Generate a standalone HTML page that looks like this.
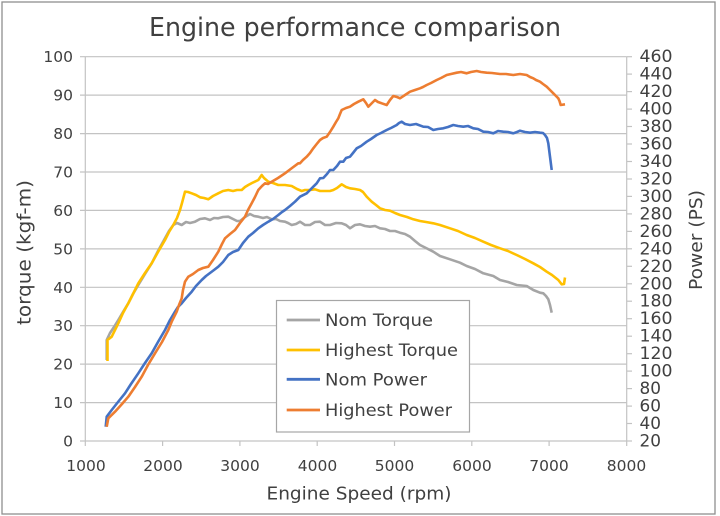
<!DOCTYPE html>
<html><head><meta charset="utf-8"><style>
html,body{margin:0;padding:0;background:#fff;}
svg{display:block;}
text{font-family:"DejaVu Sans","Liberation Sans",sans-serif;fill:#404040;}
</style></head><body>
<svg width="720" height="516" viewBox="0 0 720 516" xmlns="http://www.w3.org/2000/svg">
<rect x="0" y="0" width="720" height="516" fill="#fff"/>
<rect x="2" y="2" width="713" height="512" fill="none" stroke="#8e8e8e" stroke-width="1.3"/>
<text x="355" y="36" font-size="26" text-anchor="middle" textLength="412" lengthAdjust="spacingAndGlyphs">Engine performance comparison</text>
<g stroke="#c3c3c3" stroke-width="1.2" fill="none">
<line x1="80" y1="56.7" x2="626.7" y2="56.7"/>
<line x1="80" y1="95.1" x2="626.7" y2="95.1"/>
<line x1="80" y1="133.6" x2="626.7" y2="133.6"/>
<line x1="80" y1="172" x2="626.7" y2="172"/>
<line x1="80" y1="210.4" x2="626.7" y2="210.4"/>
<line x1="80" y1="248.9" x2="626.7" y2="248.9"/>
<line x1="80" y1="287.3" x2="626.7" y2="287.3"/>
<line x1="80" y1="325.7" x2="626.7" y2="325.7"/>
<line x1="80" y1="364.1" x2="626.7" y2="364.1"/>
<line x1="80" y1="402.6" x2="626.7" y2="402.6"/>
<line x1="80" y1="441" x2="626.7" y2="441"/>
<line x1="85.3" y1="56.7" x2="85.3" y2="446"/>
<line x1="626.7" y1="56.7" x2="626.7" y2="446"/>
<line x1="162.6" y1="441" x2="162.6" y2="446"/>
<line x1="239.9" y1="441" x2="239.9" y2="446"/>
<line x1="317.2" y1="441" x2="317.2" y2="446"/>
<line x1="394.5" y1="441" x2="394.5" y2="446"/>
<line x1="471.8" y1="441" x2="471.8" y2="446"/>
<line x1="549.1" y1="441" x2="549.1" y2="446"/>
<line x1="626.7" y1="423.5" x2="632" y2="423.5"/>
<line x1="626.7" y1="406.1" x2="632" y2="406.1"/>
<line x1="626.7" y1="388.6" x2="632" y2="388.6"/>
<line x1="626.7" y1="371.1" x2="632" y2="371.1"/>
<line x1="626.7" y1="353.7" x2="632" y2="353.7"/>
<line x1="626.7" y1="336.2" x2="632" y2="336.2"/>
<line x1="626.7" y1="318.7" x2="632" y2="318.7"/>
<line x1="626.7" y1="301.2" x2="632" y2="301.2"/>
<line x1="626.7" y1="283.8" x2="632" y2="283.8"/>
<line x1="626.7" y1="266.3" x2="632" y2="266.3"/>
<line x1="626.7" y1="248.8" x2="632" y2="248.8"/>
<line x1="626.7" y1="231.4" x2="632" y2="231.4"/>
<line x1="626.7" y1="213.9" x2="632" y2="213.9"/>
<line x1="626.7" y1="196.4" x2="632" y2="196.4"/>
<line x1="626.7" y1="179" x2="632" y2="179"/>
<line x1="626.7" y1="161.5" x2="632" y2="161.5"/>
<line x1="626.7" y1="144" x2="632" y2="144"/>
<line x1="626.7" y1="126.5" x2="632" y2="126.5"/>
<line x1="626.7" y1="109.1" x2="632" y2="109.1"/>
<line x1="626.7" y1="91.6" x2="632" y2="91.6"/>
<line x1="626.7" y1="74.1" x2="632" y2="74.1"/>
<line x1="626.7" y1="56.7" x2="632" y2="56.7"/>
<line x1="626.7" y1="441" x2="632" y2="441"/>
</g>
<g font-size="15.5" text-anchor="end">
<text x="73" y="62.2">100</text>
<text x="73" y="100.6">90</text>
<text x="73" y="139.1">80</text>
<text x="73" y="177.5">70</text>
<text x="73" y="215.9">60</text>
<text x="73" y="254.4">50</text>
<text x="73" y="292.8">40</text>
<text x="73" y="331.2">30</text>
<text x="73" y="369.6">20</text>
<text x="73" y="408.1">10</text>
<text x="73" y="446.5">0</text>
</g>
<g font-size="15.5" text-anchor="middle">
<text x="86" y="471">1000</text>
<text x="163" y="471">2000</text>
<text x="240" y="471">3000</text>
<text x="317.5" y="471">4000</text>
<text x="394.5" y="471">5000</text>
<text x="472" y="471">6000</text>
<text x="549" y="471">7000</text>
<text x="626.5" y="471">8000</text>
</g>
<g font-size="16.5">
<text x="639.5" y="62.2" textLength="33" lengthAdjust="spacingAndGlyphs">460</text>
<text x="639.5" y="79.6" textLength="33" lengthAdjust="spacingAndGlyphs">440</text>
<text x="639.5" y="97.1" textLength="33" lengthAdjust="spacingAndGlyphs">420</text>
<text x="639.5" y="114.6" textLength="33" lengthAdjust="spacingAndGlyphs">400</text>
<text x="639.5" y="132" textLength="33" lengthAdjust="spacingAndGlyphs">380</text>
<text x="639.5" y="149.5" textLength="33" lengthAdjust="spacingAndGlyphs">360</text>
<text x="639.5" y="167" textLength="33" lengthAdjust="spacingAndGlyphs">340</text>
<text x="639.5" y="184.5" textLength="33" lengthAdjust="spacingAndGlyphs">320</text>
<text x="639.5" y="201.9" textLength="33" lengthAdjust="spacingAndGlyphs">300</text>
<text x="639.5" y="219.4" textLength="33" lengthAdjust="spacingAndGlyphs">280</text>
<text x="639.5" y="236.9" textLength="33" lengthAdjust="spacingAndGlyphs">260</text>
<text x="639.5" y="254.3" textLength="33" lengthAdjust="spacingAndGlyphs">240</text>
<text x="639.5" y="271.8" textLength="33" lengthAdjust="spacingAndGlyphs">220</text>
<text x="639.5" y="289.3" textLength="33" lengthAdjust="spacingAndGlyphs">200</text>
<text x="639.5" y="306.7" textLength="33" lengthAdjust="spacingAndGlyphs">180</text>
<text x="639.5" y="324.2" textLength="33" lengthAdjust="spacingAndGlyphs">160</text>
<text x="639.5" y="341.7" textLength="33" lengthAdjust="spacingAndGlyphs">140</text>
<text x="639.5" y="359.2" textLength="33" lengthAdjust="spacingAndGlyphs">120</text>
<text x="639.5" y="376.6" textLength="33" lengthAdjust="spacingAndGlyphs">100</text>
<text x="639.5" y="394.1" textLength="21.5" lengthAdjust="spacingAndGlyphs">80</text>
<text x="639.5" y="411.6" textLength="21.5" lengthAdjust="spacingAndGlyphs">60</text>
<text x="639.5" y="429" textLength="21.5" lengthAdjust="spacingAndGlyphs">40</text>
<text x="639.5" y="446.5" textLength="21.5" lengthAdjust="spacingAndGlyphs">20</text>
</g>
<text x="359" y="499.5" font-size="18" text-anchor="middle" textLength="185" lengthAdjust="spacingAndGlyphs">Engine Speed (rpm)</text>
<text transform="translate(30.5,252.5) rotate(-90)" font-size="19" text-anchor="middle" textLength="145" lengthAdjust="spacingAndGlyphs">torque (kgf-m)</text>
<text transform="translate(702,240) rotate(-90)" font-size="18" text-anchor="middle" textLength="100" lengthAdjust="spacingAndGlyphs">Power (PS)</text>
<g fill="none" stroke-width="2.6" stroke-linejoin="round" stroke-linecap="butt">
<polyline stroke="#a5a5a5" points="106.7,360 106.7,340 110,333 114,327 118.3,320 123,312 128.3,303.3 133,294 138.3,285 145,274 151.7,263.3 158,251 165,238.3 169,231 173.3,225 177,223 181.7,225 186,222 190,223 195,221.7 200,219 205,218.3 210,220 214,218 218.3,218.3 223,217 228.3,216.7 233,219 237,221 240,221 245,217 250,214 254,216 258.3,216.7 263,218 267,217 271.7,219.3 276,219 280,221 285,221.7 288,223 291.7,225 296,224 300,221.7 305,225 310,225 315,222 320,221.7 325,225 330,225 336,223 341.7,223.3 346,225 350,228.3 355,225 360,224.3 365,226 370,226.7 375,226 380,228.3 385,229 390,231 395,231 400,232.7 405,234 410,236.7 415,241 420,245 426,248 433.3,251.7 440,256 450,259.3 460,262.7 466.7,266 475,269 483.3,273.3 493.3,276 500,280 508,282 516.7,285 526.7,286 533.3,290 540,292.7 543.3,293.3 546,296 548.3,299.3 550,305 551.7,312.7"/>
<polyline stroke="#ffc000" points="107.5,361 107.5,340 111.7,336.7 115,330 118.3,323.3 123,313 128.3,303.3 133,294 138.3,283.3 145,273 151.7,263.3 158,252 165,240 169,232 173.3,225 177,218 180,210 182,203 185,191.7 188,192 191.7,193.3 196,195 200,197.3 204,198 208.3,199.3 213,196 218.3,193.3 223,191 228.3,190 233,191 237,190 241.7,190 245,187 248.3,185 252,183 258.3,180 261.7,175 264,178 268.3,181.7 273,183 278.3,185 285,185 291.7,186 297,189 301.7,191 305,190 310,190 315,189.3 320,191 325,191 330,191 333.3,190 337,188 341.7,184.3 346,187 350,188.3 355,189 360,190 363,192 366.7,196.7 369,199 371.7,201.7 376,205 380,208.3 385,210 390,210.7 395,213 400,215 407,217 413.3,219.3 420,221 426,222 433.3,223.3 440,225 450,228.3 458,231 466.7,235 475,238 483.3,241.7 491,245 500,248.3 508,251 516.7,255 525,259 533.3,263.3 540,267 546.7,271.7 552,275 558.3,280 561.7,284.3 564,284 565,277.5"/>
<polyline stroke="#4472c4" points="105.7,426.7 106.7,416.7 111.7,410 118,402 125,393.3 131,384 138.3,373.3 145,363 151.7,353.3 158,342 165,330 170,320 175,311.7 178,307 181.7,303.3 186,298 191.7,291.7 196,286 201.7,280 206,276 210,273 214,270 218.3,266.7 223,262 228.3,255 233,252 238.3,250 243,243 248.3,236.7 253,233 258.3,228.3 263,225 268.3,221.7 273,219 278.3,215 282,212 285,210 290,206 295,201.7 300,196.7 306.7,193.3 310,190 313.3,186.7 316.7,183.3 320,178.3 323.3,178 327,174 330,170 333.3,170 337,166 340,161.7 343.3,161.7 346,158 350,156.7 353,153 356.7,148.3 361,146 366.7,141.7 371,139 376.7,135 381,133 386.7,130 391,128 396.7,125 399,123 401.7,121.7 405,124 410,125 416,124 423.3,126.7 428,127 433.3,130 438,129 443.3,128.3 448,127 453.3,125 458,126 463.3,126.7 468,126 473.3,128.3 478,129 483.3,131.7 488,132 493.3,133.3 498,131 503.3,131.7 508,132 513.3,133.3 517,132 520,130.7 525,132 530,132.7 535,132 540,132.7 543,133 545,135 547,138 548.3,143.3 550,156.7 551.7,170"/>
<polyline stroke="#ed7d31" points="106.7,426.7 108.3,418.3 115,411.7 122,404 128.3,396.7 135,387 141.7,376.7 148,365 155,353.3 162,342 168.3,330 172,321 176.7,311.7 179,305 181.7,298.3 183,290 185,281.7 188.3,276.7 193,274 198.3,270 203,268 208.3,266.7 213,260 218.3,251.7 222,244 225,238.3 230,234 235,230 240,223 245,216.7 248,210 251.7,203.3 255,197 258.3,190 262,186 265,183.3 268,184 271.7,181.7 278,178 285,173.3 292,168 298.3,163.3 300,163.3 303,160 306.7,156.7 310,153 313.3,148.3 316.7,144 320,140 323,138 326.7,136.7 330,132 333.3,126.7 336,122 338.3,118.3 340,114 341.7,110 346,108 350,106.7 354,104 358.3,101.7 363.3,99.3 366,103 368.3,106.7 372,103 375,100 378,102 381.7,103.3 386.7,105 390,100 393.3,96 397,97 400,98.3 405,95 410,91.7 415,90 420,88.3 423,87 426.7,85 431,83 436.7,80 441,78 446.7,75 451,74 456.7,72.7 461,72 466.7,73.3 471,72 476.7,71 481,72 486.7,72.7 492,73 500,74 506,74 513.3,75 520,74 526.7,75 530,77 533.3,78.3 536,80 540,81.7 543,84 546.7,86.7 550,90 553.3,93.3 556,96 558.3,98.3 559.5,101 560.7,105 565,104.3"/>
</g>
<rect x="276.5" y="300.5" width="193" height="131.5" fill="#fff" stroke="#a6a6a6" stroke-width="1.2"/>
<g stroke-width="2.8">
<line x1="286.7" y1="320" x2="320" y2="320" stroke="#a5a5a5"/>
<line x1="286.7" y1="350" x2="320" y2="350" stroke="#ffc000"/>
<line x1="286.7" y1="379.3" x2="320" y2="379.3" stroke="#4472c4"/>
<line x1="286.7" y1="410" x2="320" y2="410" stroke="#ed7d31"/>
</g>
<g font-size="17">
<text x="325" y="326" textLength="108" lengthAdjust="spacingAndGlyphs">Nom Torque</text>
<text x="325" y="356" textLength="133" lengthAdjust="spacingAndGlyphs">Highest Torque</text>
<text x="325" y="385.5" textLength="102" lengthAdjust="spacingAndGlyphs">Nom Power</text>
<text x="325" y="416" textLength="127" lengthAdjust="spacingAndGlyphs">Highest Power</text>
</g>
</svg>
</body></html>
